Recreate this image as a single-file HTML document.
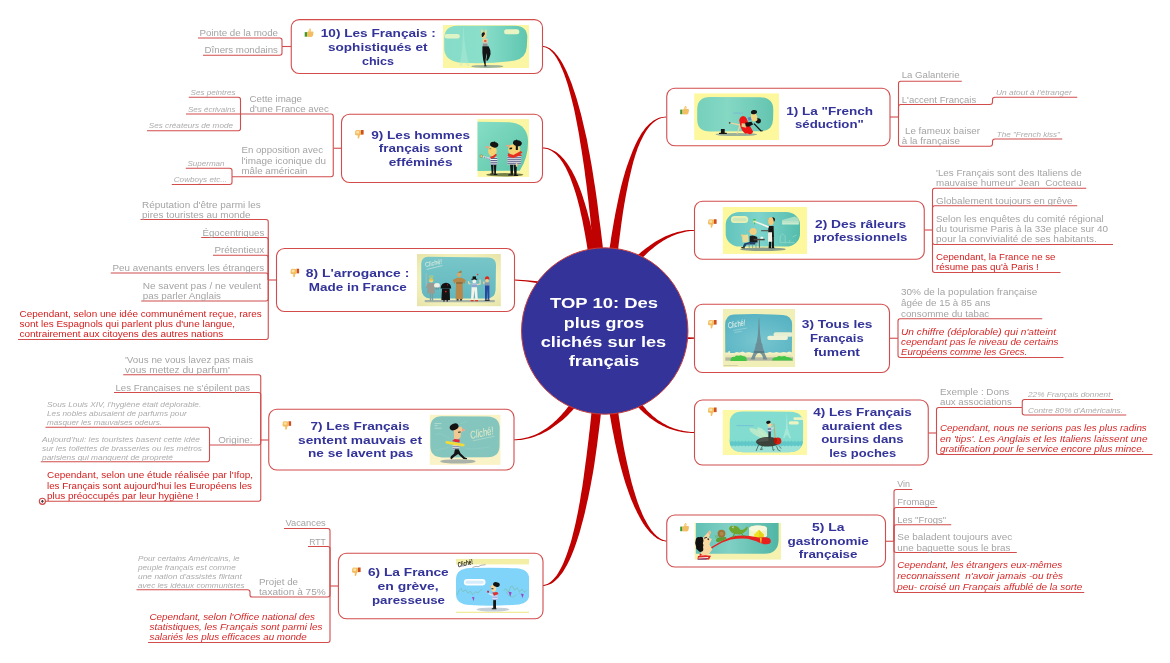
<!DOCTYPE html>
<html><head><meta charset="utf-8"><title>TOP 10: Des plus gros clichés sur les français</title><style>html,body{margin:0;padding:0;background:#fff}svg{display:block}
body>svg{will-change:transform;opacity:.999}
text{font-family:"Liberation Sans",sans-serif;white-space:pre}
.g{font-size:9px;fill:#a4a4a4}.gi{font-size:7.5px;font-style:italic;fill:#acacac}
.r{font-size:9px;fill:#d41c1c}.ri{font-size:9px;font-style:italic;fill:#d62828}
.t{font-size:11.1px;font-weight:bold;fill:#333399}.c{font-size:15px;font-weight:bold;fill:#fff}</style></head><body>
<svg width="1170" height="663" viewBox="0 0 1170 663">
<defs><linearGradient id="tg1" x1="0" x2="1" y1="0" y2="0"><stop offset="0" stop-color="#86dcc8"/><stop offset=".45" stop-color="#8adfcb"/><stop offset="1" stop-color="#5fc6b0"/></linearGradient><linearGradient id="tg9" x1="0" x2="1" y1="0" y2="1"><stop offset="0" stop-color="#86dec6"/><stop offset="1" stop-color="#5cc4a8"/></linearGradient><linearGradient id="tg8" x1="0" x2="0" y1="0" y2="1"><stop offset="0" stop-color="#78c6c8"/><stop offset="1" stop-color="#62b8c0"/></linearGradient><linearGradient id="tg2" x1="0" x2="1" y1="0" y2="0"><stop offset="0" stop-color="#62c4bc"/><stop offset=".45" stop-color="#7ed4cc"/><stop offset="1" stop-color="#54bcac"/></linearGradient><radialGradient id="tg3" cx=".5" cy=".65" r=".7"><stop offset="0" stop-color="#78c6d0"/><stop offset="1" stop-color="#56b2c2"/></radialGradient><linearGradient id="tg1b" x1="0" x2="1" y1="0" y2="0"><stop offset="0" stop-color="#76d0bc"/><stop offset=".4" stop-color="#84d8c4"/><stop offset="1" stop-color="#64c4b0"/></linearGradient><linearGradient id="tg5" x1="0" x2="1" y1="0" y2="0"><stop offset="0" stop-color="#62c0b4"/><stop offset=".4" stop-color="#80d0c4"/><stop offset="1" stop-color="#50b6a6"/></linearGradient><radialGradient id="bg8" cx=".5" cy=".5" r=".75"><stop offset=".6" stop-color="#f3f1bc"/><stop offset="1" stop-color="#e4e0a4"/></radialGradient></defs>
<rect width="1170" height="663" fill="#fff"/>
<g fill="#c00000"><path d="M542.2,46.9L542.7,47.0L543.3,47.0L543.8,47.1L544.4,47.2L545.0,47.3L545.6,47.5L546.2,47.8L546.8,48.0L547.4,48.3L548.0,48.7L548.7,49.1L549.4,49.6L550.0,50.1L550.7,50.7L551.4,51.4L552.1,52.1L552.8,52.9L553.5,53.7L554.2,54.6L554.9,55.6L555.7,56.7L556.4,57.8L557.2,59.0L557.9,60.4L558.7,61.7L559.4,63.2L560.2,64.8L560.9,66.5L561.7,68.2L562.5,70.1L563.3,72.0L564.1,74.1L564.9,76.2L565.7,78.5L566.5,80.9L567.3,83.3L568.1,85.9L568.9,88.7L569.6,91.5L570.4,94.5L571.2,97.6L572.0,100.8L572.8,104.1L573.7,107.6L574.5,111.2L575.3,114.9L576.0,118.8L576.8,122.8L577.6,127.0L578.4,131.3L579.2,135.8L579.9,140.4L580.7,145.2L581.5,150.1L582.3,155.2L583.1,160.4L583.9,165.8L584.7,171.4L585.4,177.2L586.2,183.1L587.0,189.2L587.7,195.4L588.5,201.9L589.2,208.5L590.0,215.3L590.7,222.3L591.4,229.5L592.0,236.9L592.6,244.5L593.3,252.2L594.0,260.2L594.7,268.4L595.4,276.7L596.1,285.3L596.7,294.1L597.4,303.1L598.0,312.3L598.7,321.7L599.3,331.4L610.2,330.6L609.5,321.0L608.8,311.5L608.0,302.3L607.3,293.3L606.5,284.4L605.7,275.8L604.9,267.5L604.1,259.3L603.3,251.3L602.4,243.5L601.5,235.9L600.6,228.5L599.6,221.3L598.7,214.3L597.9,207.5L597.0,200.8L596.1,194.3L595.2,188.1L594.2,182.0L593.3,176.0L592.4,170.3L591.5,164.7L590.5,159.2L589.6,154.0L588.6,148.9L587.7,143.9L586.8,139.1L585.7,134.5L584.7,130.1L583.7,125.7L582.7,121.6L581.8,117.5L580.8,113.6L579.8,109.9L578.8,106.3L577.8,102.8L576.9,99.5L575.9,96.2L574.9,93.2L573.9,90.2L572.9,87.4L572.0,84.6L571.0,82.0L570.0,79.6L569.1,77.2L568.1,74.9L567.2,72.8L566.3,70.7L565.3,68.8L564.4,66.9L563.5,65.2L562.6,63.5L561.7,62.0L560.8,60.5L559.9,59.1L559.0,57.9L558.1,56.6L557.3,55.5L556.4,54.5L555.6,53.5L554.8,52.6L554.0,51.8L553.2,51.0L552.4,50.3L551.6,49.7L550.8,49.1L550.1,48.6L549.3,48.1L548.6,47.7L547.9,47.4L547.2,47.1L546.5,46.8L545.9,46.6L545.2,46.4L544.6,46.3L544.0,46.2L543.4,46.1L542.8,46.1L542.2,46.1Z"/><path d="M542.2,148.4L543.9,148.5L545.5,148.7L547.1,149.1L548.6,149.6L550.1,150.2L551.6,151.0L553.0,151.9L554.4,152.9L555.7,154.0L557.0,155.3L558.2,156.7L559.5,158.1L560.7,159.7L561.8,161.3L563.0,163.0L564.1,164.9L565.2,166.8L566.2,168.8L567.3,170.9L568.2,173.0L569.2,175.3L570.2,177.6L571.1,179.9L572.0,182.4L572.9,184.9L573.8,187.5L574.6,190.1L575.5,192.8L576.3,195.5L577.1,198.3L577.9,201.2L578.6,204.0L579.4,207.0L580.1,209.9L580.7,212.9L581.4,216.0L582.1,219.0L582.7,222.1L583.3,225.2L583.9,228.3L584.5,231.5L585.1,234.6L585.6,237.8L586.2,241.0L586.7,244.1L587.2,247.3L587.7,250.5L588.2,253.6L588.7,256.8L589.2,259.9L589.7,263.1L590.1,266.2L590.6,269.3L591.0,272.3L591.5,275.4L591.9,278.4L592.3,281.3L592.7,284.3L593.1,287.2L593.5,290.0L593.8,292.8L594.2,295.6L594.6,298.3L594.9,300.9L595.3,303.5L595.6,306.1L596.0,308.5L596.3,310.9L596.6,313.3L597.0,315.5L597.3,317.7L597.6,319.8L597.9,321.8L598.3,323.8L598.6,325.6L598.9,327.4L599.2,329.1L599.6,330.7L599.9,332.2L609.6,329.8L609.3,328.5L609.0,327.0L608.6,325.5L608.3,323.8L607.9,322.0L607.6,320.2L607.2,318.2L606.9,316.1L606.5,314.0L606.1,311.8L605.7,309.5L605.4,307.1L605.0,304.7L604.6,302.2L604.2,299.6L603.8,297.0L603.3,294.3L602.9,291.5L602.5,288.7L602.0,285.9L601.6,283.0L601.1,280.0L600.6,277.1L600.2,274.0L599.7,271.0L599.2,267.9L598.6,264.8L598.1,261.7L597.6,258.6L597.0,255.4L596.4,252.2L595.9,249.1L595.2,245.9L594.6,242.7L593.9,239.5L593.3,236.3L592.6,233.1L591.9,230.0L591.1,226.8L590.4,223.7L589.6,220.5L588.8,217.4L588.0,214.4L587.2,211.3L586.3,208.3L585.4,205.3L584.6,202.4L583.6,199.5L582.7,196.6L581.8,193.8L580.8,191.0L579.8,188.3L578.8,185.7L577.7,183.1L576.6,180.6L575.5,178.1L574.4,175.7L573.2,173.4L572.0,171.1L570.7,169.0L569.5,166.9L568.2,164.9L566.9,163.0L565.5,161.2L564.2,159.5L562.8,157.9L561.4,156.4L559.9,155.0L558.4,153.8L556.9,152.6L555.3,151.6L553.8,150.7L552.2,149.9L550.6,149.2L549.0,148.6L547.3,148.1L545.6,147.8L543.9,147.6L542.2,147.6Z"/><path d="M666.2,116.6L664.6,116.7L663.0,116.9L661.4,117.2L659.9,117.6L658.4,118.1L656.9,118.7L655.5,119.5L654.0,120.3L652.6,121.3L651.2,122.4L649.8,123.5L648.5,124.8L647.1,126.2L645.8,127.6L644.5,129.2L643.3,130.9L642.0,132.6L640.8,134.5L639.7,136.4L638.5,138.5L637.4,140.6L636.3,142.8L635.2,145.1L634.1,147.4L633.1,149.8L632.1,152.3L631.1,154.9L630.1,157.5L629.1,160.2L628.1,162.9L627.1,165.7L626.2,168.6L625.2,171.5L624.4,174.5L623.5,177.5L622.7,180.6L621.8,183.7L621.0,186.9L620.3,190.1L619.5,193.4L618.8,196.7L618.1,200.1L617.4,203.5L616.7,206.9L616.0,210.3L615.3,213.8L614.7,217.3L614.0,220.8L613.4,224.4L612.8,227.9L612.2,231.5L611.6,235.1L611.0,238.7L610.5,242.4L609.9,246.0L609.4,249.6L608.9,253.3L608.4,256.9L607.9,260.6L607.5,264.2L607.0,267.9L606.6,271.5L606.1,275.2L605.7,278.8L605.2,282.4L604.8,286.0L604.4,289.6L604.0,293.1L603.6,296.7L603.2,300.2L602.8,303.7L602.4,307.2L602.0,310.6L601.6,314.0L601.3,317.4L600.9,320.7L600.5,324.0L600.1,327.3L599.8,330.5L609.7,331.5L610.0,328.3L610.3,325.0L610.7,321.7L611.0,318.4L611.3,315.0L611.6,311.6L612.0,308.2L612.3,304.7L612.6,301.2L613.0,297.7L613.3,294.1L613.7,290.6L614.0,287.0L614.4,283.4L614.7,279.8L615.1,276.2L615.5,272.6L615.9,268.9L616.3,265.3L616.7,261.7L617.1,258.0L617.5,254.4L618.0,250.7L618.4,247.1L618.8,243.5L619.3,239.9L619.7,236.3L620.2,232.7L620.7,229.1L621.1,225.6L621.6,222.0L622.1,218.5L622.6,215.0L623.1,211.6L623.7,208.1L624.2,204.7L624.8,201.4L625.4,198.1L626.0,194.8L626.6,191.5L627.3,188.3L627.9,185.1L628.5,182.0L629.2,178.9L629.9,175.9L630.6,172.9L631.3,170.0L632.0,167.1L632.7,164.3L633.4,161.6L634.2,158.9L635.0,156.2L635.8,153.7L636.7,151.2L637.5,148.8L638.4,146.4L639.4,144.2L640.3,142.0L641.3,139.9L642.3,137.9L643.3,135.9L644.4,134.1L645.4,132.3L646.5,130.6L647.6,129.0L648.7,127.5L649.9,126.1L651.1,124.8L652.3,123.6L653.5,122.5L654.8,121.5L656.1,120.6L657.5,119.8L658.8,119.1L660.2,118.6L661.7,118.1L663.2,117.8L664.7,117.6L666.2,117.6Z"/><path d="M694.4,230.0L692.4,229.9L690.4,230.0L688.4,230.1L686.5,230.3L684.5,230.6L682.5,231.0L680.5,231.4L678.6,231.8L676.6,232.3L674.7,232.9L672.7,233.5L670.8,234.2L668.9,235.0L666.9,235.8L665.0,236.6L663.1,237.5L661.3,238.5L659.4,239.5L657.5,240.5L655.7,241.6L653.8,242.8L652.0,243.9L650.2,245.2L648.5,246.4L646.7,247.7L645.0,249.1L643.2,250.4L641.5,251.8L639.9,253.3L638.2,254.7L636.6,256.2L635.0,257.7L633.4,259.3L631.8,260.8L630.3,262.4L628.8,264.0L627.3,265.7L625.8,267.3L624.4,269.0L623.0,270.7L621.7,272.4L620.3,274.1L619.1,275.8L617.8,277.5L616.6,279.2L615.4,281.0L614.2,282.7L613.1,284.4L612.0,286.2L611.0,287.9L609.9,289.7L609.0,291.4L608.0,293.2L607.1,294.9L606.3,296.6L605.5,298.3L604.7,300.0L604.0,301.7L603.3,303.4L602.7,305.1L602.1,306.7L601.5,308.3L601.0,310.0L600.6,311.6L600.2,313.1L599.8,314.7L599.6,316.2L599.3,317.8L599.1,319.3L599.0,320.7L598.9,322.2L598.9,323.6L599.0,325.0L599.1,326.3L599.2,327.7L599.5,329.0L599.8,330.3L600.1,331.5L600.6,332.8L608.9,329.2L608.7,328.6L608.4,327.9L608.3,327.2L608.1,326.4L608.0,325.5L607.9,324.5L607.9,323.5L607.9,322.5L608.0,321.4L608.1,320.2L608.2,319.0L608.4,317.8L608.7,316.5L609.0,315.1L609.3,313.8L609.6,312.4L610.0,310.9L610.5,309.5L610.9,308.0L611.5,306.4L612.0,304.9L612.6,303.3L613.3,301.7L613.9,300.1L614.6,298.5L615.4,296.8L616.2,295.2L617.0,293.5L617.9,291.8L618.8,290.1L619.7,288.4L620.7,286.7L621.7,285.0L622.7,283.3L623.8,281.5L624.9,279.8L626.0,278.1L627.2,276.4L628.4,274.7L629.6,273.0L630.8,271.3L632.1,269.7L633.4,268.0L634.7,266.4L636.1,264.7L637.5,263.1L638.9,261.5L640.3,260.0L641.8,258.4L643.2,256.9L644.8,255.4L646.3,253.9L647.8,252.5L649.4,251.1L651.0,249.7L652.6,248.4L654.3,247.0L655.9,245.8L657.6,244.5L659.3,243.3L661.0,242.2L662.7,241.1L664.5,240.0L666.2,239.0L668.0,238.1L669.8,237.2L671.6,236.3L673.5,235.5L675.3,234.8L677.2,234.1L679.0,233.5L680.9,232.9L682.8,232.4L684.7,232.0L686.6,231.6L688.6,231.3L690.5,231.1L692.4,230.9L694.4,230.8Z"/><path d="M513.7,440.2L516.2,440.2L518.6,440.1L521.1,439.9L523.5,439.6L525.9,439.1L528.2,438.6L530.6,438.0L532.9,437.3L535.1,436.5L537.4,435.6L539.7,434.7L541.9,433.7L544.1,432.6L546.2,431.4L548.4,430.2L550.5,428.9L552.5,427.5L554.6,426.1L556.7,424.6L558.7,423.1L560.7,421.5L562.7,419.9L564.6,418.2L566.5,416.5L568.3,414.7L570.1,412.8L571.9,410.9L573.6,409.0L575.3,407.0L577.0,405.0L578.6,403.0L580.2,401.0L581.8,398.9L583.3,396.8L584.8,394.7L586.2,392.6L587.6,390.5L589.0,388.4L590.3,386.3L591.6,384.1L592.9,382.0L594.1,379.9L595.2,377.8L596.4,375.7L597.5,373.6L598.5,371.5L599.5,369.5L600.5,367.4L601.5,365.4L602.3,363.5L603.2,361.5L604.0,359.6L604.8,357.7L605.5,355.9L606.2,354.1L606.8,352.4L607.4,350.6L608.0,349.0L608.5,347.4L609.0,345.8L609.4,344.3L609.8,342.9L610.1,341.5L610.4,340.2L610.6,338.9L610.8,337.7L611.0,336.5L611.1,335.4L611.2,334.4L611.2,333.4L611.1,332.4L611.0,331.4L610.7,330.3L610.2,329.1L609.2,327.9L607.7,326.8L605.8,326.3L604.1,326.5L602.8,327.0L606.7,335.0L606.2,335.2L605.2,335.3L603.9,335.0L602.9,334.3L602.4,333.6L602.2,333.2L602.2,333.1L602.2,333.2L602.2,333.6L602.2,334.1L602.1,334.7L602.1,335.5L601.9,336.3L601.8,337.3L601.6,338.4L601.3,339.5L601.0,340.7L600.7,342.0L600.3,343.4L599.9,344.8L599.5,346.3L599.0,347.9L598.5,349.5L598.0,351.2L597.4,352.9L596.8,354.7L596.1,356.5L595.4,358.3L594.6,360.2L593.9,362.1L593.0,364.1L592.2,366.1L591.3,368.1L590.4,370.1L589.4,372.2L588.4,374.2L587.4,376.3L586.3,378.4L585.2,380.5L584.1,382.6L582.9,384.7L581.7,386.8L580.4,388.9L579.2,391.0L577.9,393.1L576.5,395.2L575.1,397.3L573.7,399.3L572.3,401.4L570.8,403.4L569.3,405.4L567.7,407.3L566.2,409.3L564.6,411.2L562.9,413.0L561.3,414.9L559.6,416.7L557.9,418.4L556.2,420.2L554.4,421.8L552.6,423.5L550.7,425.0L548.8,426.5L546.9,427.9L544.9,429.3L542.9,430.5L540.9,431.7L538.8,432.9L536.7,433.9L534.5,434.9L532.3,435.8L530.1,436.6L527.9,437.3L525.6,437.8L523.3,438.3L520.9,438.7L518.5,439.1L516.1,439.3L513.7,439.4Z"/><path d="M541.9,586.0L543.9,585.9L545.8,585.6L547.7,585.1L549.7,584.3L551.6,583.4L553.4,582.2L555.2,580.7L557.0,579.0L558.8,577.2L560.5,575.1L562.2,572.9L563.8,570.4L565.4,567.8L567.0,565.0L568.5,562.0L570.0,558.9L571.4,555.7L572.8,552.3L574.2,548.7L575.5,545.1L576.8,541.3L578.0,537.4L579.3,533.4L580.5,529.3L581.6,525.1L582.8,520.8L583.9,516.4L585.0,511.9L586.0,507.4L587.0,502.8L588.1,498.2L589.0,493.5L590.0,488.7L590.9,483.9L591.8,479.1L592.7,474.3L593.5,469.4L594.3,464.5L595.0,459.6L595.7,454.7L596.4,449.8L597.1,445.0L597.7,440.1L598.3,435.3L598.9,430.5L599.5,425.7L600.1,421.0L600.6,416.3L601.1,411.7L601.6,407.2L602.1,402.7L602.6,398.3L603.0,394.0L603.5,389.8L603.9,385.6L604.3,381.6L604.6,377.7L605.0,373.9L605.4,370.2L605.7,366.6L606.0,363.2L606.3,359.9L606.6,356.8L606.9,353.8L607.2,351.0L607.4,348.3L607.7,345.8L607.9,343.5L608.2,341.4L608.4,339.5L608.6,337.8L608.8,336.3L608.9,335.0L609.1,334.0L609.2,333.4L609.3,333.1L609.2,333.5L606.9,335.7L600.7,334.4L608.8,327.6L602.3,326.2L599.7,328.8L599.2,330.1L599.0,331.2L598.8,332.3L598.6,333.5L598.4,335.0L598.2,336.6L598.0,338.4L597.8,340.3L597.6,342.5L597.4,344.8L597.2,347.3L597.0,350.0L596.7,352.9L596.5,355.9L596.2,359.0L595.9,362.3L595.7,365.7L595.4,369.3L595.1,373.0L594.7,376.8L594.4,380.7L594.0,384.7L593.7,388.8L593.3,393.1L592.9,397.4L592.5,401.8L592.1,406.2L591.6,410.7L591.2,415.3L590.7,420.0L590.2,424.7L589.7,429.4L589.1,434.2L588.6,439.0L588.0,443.8L587.4,448.7L586.8,453.5L586.2,458.4L585.5,463.2L584.9,468.1L584.2,473.0L583.6,477.8L582.9,482.6L582.2,487.4L581.4,492.1L580.6,496.8L579.9,501.4L579.0,506.0L578.2,510.5L577.3,514.9L576.4,519.3L575.5,523.5L574.5,527.7L573.5,531.8L572.5,535.8L571.5,539.7L570.4,543.4L569.2,547.0L568.1,550.5L566.9,553.9L565.7,557.2L564.5,560.2L563.3,563.2L562.0,566.0L560.7,568.6L559.3,571.0L558.0,573.3L556.6,575.4L555.1,577.3L553.6,579.0L552.1,580.5L550.5,581.9L549.0,583.0L547.3,583.9L545.5,584.6L543.8,585.0L541.9,585.2Z"/><path d="M666.7,540.6L666.3,540.5L665.9,540.5L665.5,540.5L665.0,540.4L664.5,540.3L664.0,540.2L663.5,540.0L663.0,539.9L662.4,539.6L661.8,539.4L661.3,539.1L660.7,538.8L660.0,538.4L659.4,538.0L658.8,537.5L658.1,537.1L657.4,536.5L656.7,535.9L656.0,535.3L655.3,534.6L654.6,533.9L653.9,533.1L653.1,532.3L652.4,531.3L651.6,530.4L650.8,529.3L650.1,528.2L649.3,527.0L648.5,525.8L647.7,524.4L646.9,523.1L646.1,521.6L645.3,520.1L644.4,518.5L643.6,516.8L642.7,515.0L641.9,513.1L641.1,511.1L640.2,509.1L639.4,506.9L638.6,504.7L637.7,502.4L636.9,499.9L636.1,497.4L635.2,494.8L634.4,492.0L633.5,489.2L632.7,486.3L631.8,483.2L631.0,480.0L630.2,476.7L629.4,473.3L628.6,469.8L627.8,466.2L626.9,462.4L626.1,458.6L625.2,454.6L624.4,450.4L623.6,446.2L622.8,441.8L622.0,437.3L621.3,432.6L620.5,427.8L619.8,422.8L619.0,417.8L618.3,412.5L617.5,407.2L616.8,401.6L616.1,396.0L615.4,390.2L614.7,384.2L614.0,378.0L613.3,371.8L612.7,365.3L612.1,358.7L611.4,351.9L610.9,345.0L610.3,337.9L609.7,330.6L599.8,331.4L600.4,338.7L601.1,345.9L601.8,352.8L602.6,359.7L603.3,366.3L604.1,372.8L604.8,379.1L605.6,385.3L606.4,391.3L607.2,397.1L608.1,402.9L608.9,408.4L609.7,413.8L610.6,419.1L611.5,424.2L612.4,429.2L613.4,434.0L614.3,438.7L615.2,443.2L616.2,447.7L617.1,452.0L618.1,456.1L619.0,460.2L620.0,464.1L621.0,467.8L622.0,471.5L623.0,475.0L624.0,478.4L625.0,481.7L626.0,484.9L627.1,488.0L628.1,490.9L629.1,493.8L630.1,496.5L631.1,499.2L632.2,501.7L633.2,504.1L634.2,506.5L635.3,508.7L636.3,510.8L637.3,512.9L638.3,514.8L639.3,516.7L640.3,518.5L641.2,520.2L642.2,521.8L643.1,523.4L644.1,524.8L645.0,526.2L646.0,527.5L647.0,528.7L647.9,529.8L648.8,530.9L649.7,531.9L650.6,532.9L651.5,533.8L652.4,534.6L653.2,535.4L654.0,536.1L654.8,536.7L655.6,537.3L656.4,537.9L657.2,538.4L657.9,538.9L658.7,539.2L659.4,539.6L660.1,539.9L660.8,540.2L661.4,540.5L662.0,540.7L662.6,540.9L663.2,541.0L663.8,541.1L664.3,541.2L664.9,541.3L665.4,541.4L665.8,541.4L666.3,541.4L666.7,541.4Z"/><path d="M694.9,432.1L693.0,432.0L691.0,431.9L689.2,431.7L687.3,431.5L685.5,431.2L683.7,430.9L681.9,430.6L680.1,430.2L678.4,429.8L676.7,429.3L675.0,428.7L673.4,428.2L671.7,427.6L670.1,426.9L668.6,426.2L667.0,425.4L665.5,424.6L664.0,423.8L662.5,423.0L661.1,422.1L659.6,421.1L658.2,420.2L656.8,419.2L655.5,418.1L654.1,417.0L652.8,415.9L651.6,414.8L650.3,413.6L649.1,412.4L647.8,411.2L646.6,409.9L645.5,408.6L644.3,407.3L643.2,405.9L642.1,404.6L641.0,403.2L639.9,401.8L638.8,400.3L637.8,398.9L636.8,397.4L635.8,395.9L634.8,394.4L633.8,392.8L632.9,391.3L631.9,389.7L631.0,388.1L630.1,386.5L629.2,384.8L628.4,383.2L627.5,381.5L626.7,379.9L625.9,378.2L625.0,376.5L624.3,374.8L623.5,373.0L622.7,371.3L622.0,369.6L621.3,367.8L620.5,366.0L619.8,364.3L619.2,362.5L618.5,360.7L617.8,358.9L617.2,357.1L616.6,355.3L615.9,353.5L615.3,351.6L614.7,349.8L614.2,348.0L613.6,346.2L613.1,344.4L612.5,342.5L612.0,340.7L611.5,338.9L611.0,337.1L610.5,335.3L610.0,333.5L609.6,331.6L609.1,329.8L600.4,332.2L600.9,334.0L601.5,335.8L602.0,337.7L602.6,339.5L603.2,341.4L603.8,343.2L604.4,345.1L605.0,346.9L605.6,348.8L606.3,350.7L606.9,352.5L607.6,354.4L608.3,356.2L609.0,358.0L609.8,359.9L610.5,361.7L611.3,363.5L612.1,365.4L612.9,367.2L613.7,369.0L614.5,370.8L615.4,372.5L616.2,374.3L617.1,376.1L618.0,377.8L618.9,379.6L619.9,381.3L620.8,383.0L621.8,384.7L622.8,386.3L623.8,388.0L624.8,389.6L625.8,391.3L626.9,392.9L628.0,394.4L629.1,396.0L630.2,397.5L631.4,399.0L632.5,400.5L633.7,402.0L634.9,403.4L636.1,404.8L637.3,406.2L638.6,407.6L639.9,408.9L641.2,410.2L642.5,411.5L643.8,412.7L645.2,413.9L646.6,415.1L648.0,416.3L649.4,417.4L650.8,418.4L652.3,419.5L653.7,420.5L655.2,421.5L656.7,422.4L658.2,423.4L659.8,424.2L661.3,425.1L662.9,425.9L664.5,426.6L666.1,427.4L667.8,428.0L669.4,428.7L671.1,429.2L672.8,429.8L674.5,430.3L676.3,430.8L678.0,431.2L679.8,431.6L681.6,432.0L683.5,432.3L685.3,432.5L687.2,432.7L689.1,432.8L691.0,432.9L692.9,433.0L694.9,432.9Z"/><path d="M514.5,279.5 Q526,280 540,281.6 L540,283.6 Q526,281.2 514.5,280.5Z"/><path d="M694.5,337.6 L680,337 L680,339.6 L694.5,338.7Z"/></g>
<circle cx="604.75" cy="331" r="83.2" fill="#333399" stroke="#c83c3c" stroke-width="1"/>
<g fill="none" stroke="#d24c4c" stroke-width="1.1"><path d="M282,46.5L282,40.2Q282,38 279.8,38L198,38"/><path d="M282,46.5L282,53.05Q282,55.25 279.8,55.25L203,55.25"/><path d="M282,46.5L291.25,46.5"/><path d="M333.25,148.25L333.25,116.2Q333.25,114 331.05,114L240.5,114"/><path d="M240.5,114L240.5,99.45Q240.5,97.25 238.3,97.25L188.75,97.25"/><path d="M240.5,114L186,114"/><path d="M240.5,114L240.5,128.55Q240.5,130.75 238.3,130.75L147,130.75"/><path d="M333.25,148.25L333.25,174.55Q333.25,176.75 331.05,176.75L232,176.75"/><path d="M232,176.75L232,170.45Q232,168.25 229.8,168.25L185.75,168.25"/><path d="M232,176.75L232,182.3Q232,184.5 229.8,184.5L171.75,184.5"/><path d="M333.25,148.25L341.5,148.25"/><path d="M268.25,280L268.25,221.7Q268.25,219.5 266.05,219.5L140.5,219.5"/><path d="M268.25,280L268.25,239.7Q268.25,237.5 266.05,237.5L201.25,237.5"/><path d="M268.25,280L268.25,257.45Q268.25,255.25 266.05,255.25L213,255.25"/><path d="M268.25,280L268.25,275.2Q268.25,273 266.05,273L110.75,273"/><path d="M268.25,280L268.25,298.8Q268.25,301 266.05,301L141.25,301"/><path d="M268.25,280L268.25,337.3Q268.25,339.5 266.05,339.5L18,339.5"/><path d="M268.25,280L276.5,280"/><path d="M260.75,440L260.75,376.95Q260.75,374.75 258.55,374.75L123.25,374.75"/><path d="M260.75,440L260.75,394.7Q260.75,392.5 258.55,392.5L114,392.5"/><path d="M260.75,440L260.75,442.8Q260.75,445 258.55,445L209.5,445"/><path d="M209.5,445L209.5,429.45Q209.5,427.25 207.3,427.25L45.5,427.25"/><path d="M209.5,445L209.5,459.55Q209.5,461.75 207.3,461.75L40.75,461.75"/><path d="M260.75,440L260.75,499.05Q260.75,501.25 258.55,501.25L45.5,501.25"/><path d="M260.75,440L268.75,440"/><path d="M330,586L330,530.7Q330,528.5 327.8,528.5L284,528.5"/><path d="M330,586L330,548.7Q330,546.5 327.8,546.5L308,546.5"/><path d="M330,586L330,594.8Q330,597 327.8,597L252,597"/><path d="M252,597Q250,597 250,595L250,592Q250,589.75 247.5,589.75L136.5,589.75"/><path d="M330,586L330,640.3Q330,642.5 327.8,642.5L148,642.5"/><path d="M330,586L338.4,586"/><path d="M898.5,117L898.5,83.45Q898.5,81.25 900.7,81.25L961.75,81.25"/><path d="M898.5,117L898.5,106.7Q898.5,104.5 900.7,104.5L990,104.5"/><path d="M990,104.5Q992.5,104.5 992.5,102L992.5,99.5Q992.5,97.25 995,97.25L1077.25,97.25"/><path d="M898.5,117L898.5,144.05Q898.5,146.25 900.7,146.25L990,146.25"/><path d="M990,146.25Q992.5,146.25 992.5,143.75L992.5,141.5Q992.5,139 995,139L1062.25,139"/><path d="M890,117L898.5,117"/><path d="M932.5,230L932.5,190.45Q932.5,188.25 934.7,188.25L1086.25,188.25"/><path d="M932.5,230L932.5,207.95Q932.5,205.75 934.7,205.75L1077.25,205.75"/><path d="M932.5,230L932.5,242.3Q932.5,244.5 934.7,244.5L1113,244.5"/><path d="M932.5,230L932.5,270.3Q932.5,272.5 934.7,272.5L1060.5,272.5"/><path d="M924.25,230L932.5,230"/><path d="M898,338.25L898,320.95Q898,318.75 900.2,318.75L1042.25,318.75"/><path d="M898,338.25L898,355.3Q898,357.5 900.2,357.5L1063.5,357.5"/><path d="M889.5,338.25L898,338.25"/><path d="M936.5,433L936.5,409.7Q936.5,407.5 938.7,407.5L1022.25,407.5"/><path d="M1022.25,407.5L1022.25,401.7Q1022.25,399.5 1024.45,399.5L1113,399.5"/><path d="M1022.25,407.5L1022.25,412.8Q1022.25,415 1024.45,415L1126.25,415"/><path d="M936.5,433L936.5,452.3Q936.5,454.5 938.7,454.5L1152.5,454.5"/><path d="M928.25,433L936.5,433"/><path d="M894,541.25L894,491.7Q894,489.5 896.2,489.5L912.25,489.5"/><path d="M894,541.25L894,509.7Q894,507.5 896.2,507.5L937.25,507.5"/><path d="M894,541.25L894,526.95Q894,524.75 896.2,524.75L951.25,524.75"/><path d="M894,541.25L894,550.3Q894,552.5 896.2,552.5L1016.75,552.5"/><path d="M894,541.25L894,590.3Q894,592.5 896.2,592.5L1084.25,592.5"/><path d="M885.5,541.25L894,541.25"/></g>
<rect x="291.25" y="19.6" width="251.25" height="53.90" rx="8" fill="#fff" stroke="#d24c4c" stroke-width="1.1"/>
<g transform="translate(304.5,28.5)"><rect x="0.2" y="3.6" width="2.3" height="4.6" fill="#3f9a2f"/><path d="M2.5,3.6 L3.6,3.2 Q4.4,1.6 5,0.2 Q6.4,-0.2 6.6,1.4 L6.2,3 L8.4,3.1 Q9.2,3.4 8.9,5 L8.3,7.6 Q7.9,8.4 6.8,8.4 L2.5,8.2Z" fill="#f3bd62"/><path d="M3.8,3.2 Q4.5,1.6 5.1,0.5 Q6.2,0.2 6.3,1.5 L6,3.1" fill="#f8d58a"/></g>
<svg x="443" y="25" width="86" height="43" viewBox="0 0 86 43" overflow="hidden"><rect width="86" height="43" fill="#fbf6a4"/><path d="M1.2,14 Q1.2,1.2 14,0.8 L72,0.65 Q84,1 84.3,12 L83.8,22 Q83,33 72,35.6 Q45,39.4 18,37.8 Q1.8,36 1.2,24Z" fill="url(#tg1)"/><rect x="1.6" y="8.9" width="15.2" height="4.5" rx="2.2" fill="#def3c6"/><rect x="61.1" y="4.3" width="15.2" height="5" rx="2.5" fill="#e8f5c2"/><path d="M20.1,3 Q19.8,26 16.4,41 L18.6,41 Q21.4,34 24.2,41 L26.7,41 Q21.6,26 20.7,3Z" fill="#b4eed8" opacity=".42"/><ellipse cx="44.3" cy="41.4" rx="16" ry="1.5" fill="#9db29d"/><path d="M39.2,11 L38,4.6 L39.4,4.4 L41,9.5 L42.6,4.4 L43.8,4.8 L43.2,11Z" fill="#f6d890"/><ellipse cx="40.8" cy="10.6" rx="2.5" ry="3" fill="#f2d08c"/><path d="M38.6,9.2 Q39,6.6 41.6,7.4 Q42.6,9 41,10.6 Q39.4,13 38.8,11.6Z" fill="#181818"/><rect x="39.6" y="13.6" width="5" height="4.2" fill="#f0c890"/><rect x="41.2" y="15.2" width="2.2" height="1.6" fill="#e04828"/><rect x="39.8" y="17.4" width="4.8" height="3.8" fill="#f2f2ee"/><rect x="39.8" y="17.84" width="4.8" height="0.51" fill="#303038"/><rect x="39.8" y="19.11" width="4.8" height="0.51" fill="#303038"/><rect x="39.8" y="20.38" width="4.8" height="0.51" fill="#303038"/><path d="M39.4,21.2 L45.6,21.2 Q48,25 47.6,29 Q46.6,33 44.6,35.8 L43.2,35.4 Q44.4,31 43.6,28 L42.6,35 L42.8,40.4 L41.8,40.4 L40.2,35 Q39,27 39.4,21.2Z" fill="#141414"/><path d="M41.6,40 L44.2,41 L41.4,41.6Z" fill="#141414"/></svg>
<text class="t" x="320.75" y="37.00" textLength="115.00" lengthAdjust="spacingAndGlyphs">10) Les Français :</text>
<text class="t" x="328.00" y="50.75" textLength="99.50" lengthAdjust="spacingAndGlyphs">sophistiqués et</text>
<text class="t" x="362.00" y="64.50" textLength="32.00" lengthAdjust="spacingAndGlyphs">chics</text>
<rect x="341.5" y="114.25" width="201.00" height="68.25" rx="8" fill="#fff" stroke="#d24c4c" stroke-width="1.1"/>
<g transform="translate(355,130)"><rect x="6" y="0" width="2.6" height="4.6" fill="#cf4f1f"/><path d="M6,0.2 L1.6,0.1 Q0.4,0.2 0.2,1.4 L0,4 Q0,5.2 1.2,5.3 L2.9,5.4 L2.6,7.6 Q2.9,8.9 4,8.4 L4.9,5.3 L6,4.8Z" fill="#f3bd62"/><rect x="1.2" y="1" width="3" height="2.6" rx="1" fill="#fbe2a6"/></g>
<svg x="477.3" y="119.1" width="51.7" height="57.8" viewBox="0 0 51.7 57.8" overflow="hidden"><rect width="51.7" height="57.8" fill="#fbf6a4"/><path d="M0,2.6 L32,3.2 Q47.6,4 50.4,18 Q52.4,36 42.4,51.6 L0,52Z" fill="url(#tg9)"/><ellipse cx="27.5" cy="55.7" rx="18.5" ry="1.7" fill="#5e6c38" opacity=".85"/><path d="M13.6,45 L16.2,45 L16,54.6 L14.4,54.6Z M16.6,45 L19,45.6 L18.6,55 L17,55Z" fill="#161616"/><path d="M13.2,54.4 h3.2 v1.1 h-3.8z M16.6,54.8 h3 l.8,1.1 h-4z" fill="#161616"/><rect x="13.2" y="38.4" width="6.8" height="7.4" fill="#f4f4f0"/><rect x="13.2" y="39.05" width="6.8" height="0.74" fill="#28306c"/><rect x="13.2" y="40.90" width="6.8" height="0.74" fill="#28306c"/><rect x="13.2" y="42.75" width="6.8" height="0.74" fill="#28306c"/><rect x="13.2" y="44.60" width="6.8" height="0.74" fill="#28306c"/><path d="M13.4,41 L5,38 L5.4,36.6 L13.6,39Z" fill="#e4e6f0"/><path d="M11.6,39.2 l.5,1.3 M9.4,38.4 l.5,1.3 M7.2,37.6 l.5,1.3" stroke="#28306c" stroke-width=".6"/><circle cx="4" cy="37.1" r="1.4" fill="#e0cc80" stroke="#6a6030" stroke-width=".4"/><ellipse cx="15.1" cy="31.9" rx="4.3" ry="5.4" fill="#f5d272"/><path d="M11.6,26.8 L6.9,27.6 L11.1,29.6Z" fill="#f4a080"/><path d="M12.2,29.6 h1.8" stroke="#222" stroke-width=".5"/><path d="M12.7,38 L16,36.6 L18.6,34.6 L19.6,36 L17,38.6 L13.6,39.6Z" fill="#e83020"/><ellipse cx="16.9" cy="25.6" rx="4.2" ry="2.8" transform="rotate(12 16.9 25.6)" fill="#141414"/><rect x="17" y="22.2" width=".8" height="1.4" fill="#141414"/><path d="M32.7,45 L35.9,45 L35.6,55.4 L33.4,55.4Z M36.4,45 L39.6,45 L39.2,55.8 L37,55.8Z" fill="#161616"/><path d="M31.2,55.2 h4.6 v1.2 h-5z M36.4,55.6 h3.8 l.8,1.2 h-4.6z" fill="#161616"/><rect x="30.1" y="35.6" width="13.7" height="10" fill="#f4f4f0"/><rect x="30.1" y="36.30" width="13.7" height="0.80" fill="#28306c"/><rect x="30.1" y="38.30" width="13.7" height="0.80" fill="#28306c"/><rect x="30.1" y="40.30" width="13.7" height="0.80" fill="#28306c"/><rect x="30.1" y="42.30" width="13.7" height="0.80" fill="#28306c"/><rect x="30.1" y="44.30" width="13.7" height="0.80" fill="#28306c"/><rect x="38.5" y="44" width="1.6" height="3.6" fill="#e8d090"/><ellipse cx="36.9" cy="30.4" rx="6" ry="5.6" fill="#f5d272"/><path d="M32.6,25.6 L28.2,26.1 L31.6,28.6Z" fill="#f4a080"/><path d="M32.2,28.6 L34.8,28.4 L34.8,30 L32.2,30.3Z" fill="#141414"/><path d="M38.5,25.5 h2.1 v5.3 h-2.1z" fill="#141414"/><path d="M30.6,34 L36,36 L43.5,31.8 L45.2,33.4 L43,35 L44.8,36.6 L41,37 L36,39 L30.6,37.4Z" fill="#e83020"/><ellipse cx="40.1" cy="24" rx="4.5" ry="2.9" transform="rotate(12 40.1 24)" fill="#141414"/><rect x="39" y="20.4" width=".8" height="1.4" fill="#141414"/></svg>
<text class="t" x="371.25" y="138.50" textLength="98.75" lengthAdjust="spacingAndGlyphs">9) Les hommes</text>
<text class="t" x="378.75" y="152.25" textLength="83.75" lengthAdjust="spacingAndGlyphs">français sont</text>
<text class="t" x="388.75" y="166.00" textLength="63.75" lengthAdjust="spacingAndGlyphs">efféminés</text>
<rect x="276.5" y="248.5" width="238.00" height="63.00" rx="8" fill="#fff" stroke="#d24c4c" stroke-width="1.1"/>
<g transform="translate(290.5,268.75)"><rect x="6" y="0" width="2.6" height="4.6" fill="#cf4f1f"/><path d="M6,0.2 L1.6,0.1 Q0.4,0.2 0.2,1.4 L0,4 Q0,5.2 1.2,5.3 L2.9,5.4 L2.6,7.6 Q2.9,8.9 4,8.4 L4.9,5.3 L6,4.8Z" fill="#f3bd62"/><rect x="1.2" y="1" width="3" height="2.6" rx="1" fill="#fbe2a6"/></g>
<svg x="417" y="254" width="83.9" height="52.4" viewBox="0 0 83.9 52.4" overflow="hidden"><rect width="83.9" height="52.4" fill="url(#bg8)"/><path d="M11,2.8 L72,3.4 Q79,4 79,11 L78.6,36 Q78,44.4 70,44.4 L14,44.6 Q4.6,44.6 4.4,34 L4.2,10 Q4.4,3 11,2.8Z" fill="url(#tg8)"/><rect x="7.5" y="45.9" width="70.5" height="2.4" rx="1.2" fill="#a6b2a6"/><text x="8.6" y="13" font-size="6.6" font-style="italic" font-family="Liberation Serif, serif" fill="#f4f4e4" opacity=".9" textLength="17" lengthAdjust="spacingAndGlyphs" transform="rotate(-12 8.6 13)">Cliché!</text><path d="M9.6,15.4 L25.4,11.6" stroke="#f4f4e4" stroke-width=".5"/><rect x="8.8" y="19.2" width=".7" height="13.6" fill="#b4bcb8"/><rect x="12.8" y="39.2" width="1.4" height="7.4" fill="#7aa0a0"/><rect x="14.8" y="39.2" width="1.4" height="7.4" fill="#7aa0a0"/><path d="M10.6,29 L17.4,29 L18,39.6 L10.2,39.6Z" fill="#9a9a90"/><path d="M10.8,30 L8.6,33.6 L9.6,34 L11.6,31.6Z" fill="#9a9a90"/><ellipse cx="20" cy="31.4" rx="2.9" ry="2.3" fill="#f0f0e8"/><rect x="18.8" y="33" width=".5" height="2.6" fill="#555"/><rect x="20.8" y="33" width=".5" height="2.6" fill="#555"/><circle cx="14.2" cy="26.4" r="2.1" fill="#f2d880"/><path d="M12,25.6 Q14.2,23.2 16.4,25.6 L16.2,26.6 L12.2,26.6Z" fill="#e8c040"/><ellipse cx="14.2" cy="22.6" rx="2.2" ry=".7" fill="none" stroke="#f0d840" stroke-width=".5"/><path d="M23.6,34.6 Q24,29 29,28.8 Q34,29 34.2,34.6Z" fill="#121212"/><path d="M25,34.6 L32.6,34.6 L33,46 L24.4,46Z" fill="#141414"/><circle cx="28.8" cy="37.6" r=".9" fill="#e02020"/><circle cx="30.4" cy="30.8" r=".6" fill="#e02020"/><rect x="26.4" y="46" width="1.2" height="1.6" fill="#141414"/><rect x="29.6" y="46" width="1.2" height="1.6" fill="#141414"/><path d="M40,23.8 L44.6,23.8 L48.8,26 L47.4,30 L45.6,27.8 L46,45.2 L38.6,45.2 L39,27.8 L37.2,30 L35.8,26Z" fill="#b8884a"/><rect x="39.2" y="28.6" width="6.6" height=".8" fill="#6a4a20"/><ellipse cx="42.2" cy="20.6" rx="1.9" ry="2.6" fill="#d8a868"/><path d="M40.4,18.6 L44.6,16.6 L44.4,19Z" fill="#a87838"/><path d="M40.6,20 L38.8,21 L40.6,21.6Z" fill="#d8a868"/><rect x="39.6" y="45.2" width="2" height="1.3" fill="#222"/><rect x="43" y="45.2" width="2" height="1.3" fill="#222"/><rect x="55.6" y="22.4" width="3.4" height="2.8" fill="#121212"/><rect x="54.4" y="24.8" width="5.8" height=".9" fill="#121212"/><circle cx="57.3" cy="27.4" r="1.9" fill="#f4f0e8"/><rect x="54.6" y="29.4" width="5.4" height="3.8" fill="#e8ecf4"/><rect x="54.6" y="29.84" width="5.4" height="0.51" fill="#3860b0"/><rect x="54.6" y="31.11" width="5.4" height="0.51" fill="#3860b0"/><rect x="54.6" y="32.38" width="5.4" height="0.51" fill="#3860b0"/><path d="M54.6,30 L51.6,30.6 L50.8,27.4 L52,27 L52.6,29.2Z M60,30 L62.6,29.4 L62.4,25.6 L63.6,25.6 L63.8,30.4 L60,31.2Z" fill="#f0d8a0"/><path d="M54.6,33.2 L60,33.2 L60.8,46 L58.4,46 L57.4,36 L56.4,46 L54,46Z" fill="#f4f2ea"/><rect x="53.8" y="46" width="2.8" height="1.3" fill="#e03828"/><rect x="58.2" y="46" width="2.8" height="1.3" fill="#e03828"/><circle cx="60.6" cy="20.6" r=".8" fill="#e03828"/><path d="M67.8,25.4 Q68,22.2 70.2,22.2 Q72.4,22.4 72.4,25.4Z" fill="#e02818"/><circle cx="70.1" cy="26.8" r="1.9" fill="#f0c890"/><rect x="68" y="28.4" width="4.6" height="3.4" fill="#8898b0"/><path d="M68,29 L66.2,30.6 L66,27.6 L67,27.6Z" fill="#f0c890"/><path d="M68,31.6 L72.4,31.6 L72.4,45.8 L70.6,45.8 L70.2,35 L69.8,45.8 L68,45.8Z" fill="#2846a0"/><rect x="67.8" y="45.8" width="4.8" height="1.2" fill="#333"/></svg>
<text class="t" x="305.75" y="276.75" textLength="103.50" lengthAdjust="spacingAndGlyphs">8) L'arrogance :</text>
<text class="t" x="308.75" y="290.75" textLength="98.00" lengthAdjust="spacingAndGlyphs">Made in France</text>
<rect x="268.75" y="409.25" width="245.25" height="60.75" rx="8" fill="#fff" stroke="#d24c4c" stroke-width="1.1"/>
<g transform="translate(282.5,421.25)"><rect x="6" y="0" width="2.6" height="4.6" fill="#cf4f1f"/><path d="M6,0.2 L1.6,0.1 Q0.4,0.2 0.2,1.4 L0,4 Q0,5.2 1.2,5.3 L2.9,5.4 L2.6,7.6 Q2.9,8.9 4,8.4 L4.9,5.3 L6,4.8Z" fill="#f3bd62"/><rect x="1.2" y="1" width="3" height="2.6" rx="1" fill="#fbe2a6"/></g>
<svg x="429.5" y="414.6" width="71.2" height="50.3" viewBox="0 0 71.2 50.3" overflow="hidden"><rect width="71.2" height="50.3" fill="#fbf3c8"/><path d="M12,1.6 L58,2 Q70.4,2.4 70.2,14 L70,32 Q69.6,42.8 58,42.6 L13,42.8 Q0.8,43 0.8,31 L0.8,13 Q1,1.8 12,1.6Z" fill="#84c6be"/><ellipse cx="28.4" cy="46.8" rx="17.6" ry="2.2" fill="#aab2aa"/><text x="41.6" y="24.4" font-size="11" font-style="italic" font-family="Liberation Serif, serif" fill="#f6f0c8" opacity=".85" textLength="23.5" lengthAdjust="spacingAndGlyphs" transform="rotate(-12 41.6 24.4)">Cliché!</text><path d="M43.4,26.2 L65,21.6" stroke="#dcecd8" stroke-width=".4"/><path d="M5,9 h7 M5,11 h3 M5,13.6 h7" stroke="#c4e4d4" stroke-width=".7"/><path d="M5.6,20 L11,19 L20,24 M6,35.6 L20,32.6 M36,33.6 L42,34.6 L60,32.4 M31,9 L38,6.4" stroke="#a8d8d0" stroke-width=".4" fill="none" stroke-dasharray="1.2 .8"/><path d="M25.6,34 L28.8,34 L31,38.6 L35.4,43 L37.6,43.6 L37.4,44.6 L34,44.4 L28.6,39.4 L24.6,42.2 L22,44.6 L20.8,43.6 L21.4,41.6 L24.6,39Z" fill="#141414"/><rect x="23" y="28.6" width="6.8" height="6" fill="#dfe3e6"/><rect x="23" y="29.30" width="6.8" height="0.80" fill="#6a7a94"/><rect x="23" y="31.30" width="6.8" height="0.80" fill="#6a7a94"/><rect x="23" y="33.30" width="6.8" height="0.80" fill="#6a7a94"/><path d="M24.2,12.6 L32,12.2 L32.6,14 L35.4,15.2 L35.2,16.2 L31.8,17.2 L31,23 L27.6,24.8 L24.6,24.4Z" fill="#f2c892"/><path d="M32.6,14 L35.4,15.2 L35.2,16.2 L32.4,16.6Z" fill="#f4a088"/><path d="M28.6,17.2 L31.2,16.8 L31.2,17.8 L28.6,18.2Z" fill="#1a1a1a"/><ellipse cx="24.6" cy="12.2" rx="4.6" ry="3.2" transform="rotate(-24 24.6 12.2)" fill="#141414"/><path d="M22.6,26.4 L25,24.4 L30.2,25 L30,27.8 L26,27.4Z" fill="#e4283c"/><path d="M16,27 Q15.6,28.6 17,29.2 L33.6,31.8 Q35.4,31.6 35.2,30.2 Q34.8,29.2 33.6,29.2 L17.6,26.4 Q16.4,26.2 16,27Z" fill="#f2da38"/></svg>
<text class="t" x="310.50" y="430.00" textLength="99.00" lengthAdjust="spacingAndGlyphs">7) Les Français</text>
<text class="t" x="298.00" y="443.75" textLength="124.00" lengthAdjust="spacingAndGlyphs">sentent mauvais et</text>
<text class="t" x="308.00" y="457.25" textLength="105.25" lengthAdjust="spacingAndGlyphs">ne se lavent pas</text>
<rect x="338.4" y="553.2" width="204.60" height="65.55" rx="8" fill="#fff" stroke="#d24c4c" stroke-width="1.1"/>
<g transform="translate(352,567.5)"><rect x="6" y="0" width="2.6" height="4.6" fill="#cf4f1f"/><path d="M6,0.2 L1.6,0.1 Q0.4,0.2 0.2,1.4 L0,4 Q0,5.2 1.2,5.3 L2.9,5.4 L2.6,7.6 Q2.9,8.9 4,8.4 L4.9,5.3 L6,4.8Z" fill="#f3bd62"/><rect x="1.2" y="1" width="3" height="2.6" rx="1" fill="#fbe2a6"/></g>
<svg x="456" y="558.7" width="73.2" height="54.3" viewBox="0 0 73.2 54.3" overflow="hidden"><rect width="73.2" height="54.3" fill="#fff"/><rect width="73.2" height="5.7" fill="#f3efa6"/><rect y="53" width="73.2" height="1.3" fill="#f1ed9c"/><path d="M14,9.4 Q36,8.6 60,9.6 Q73,10.4 73.2,20 L73.2,36 Q73,45 60,46 Q36,47.8 14,46.4 Q0.4,45.6 0,36 L0,20 Q0.4,10 14,9.4Z" fill="#80d4fa"/><text x="2.2" y="8.8" font-size="7.4" font-weight="bold" font-style="italic" font-family="Liberation Serif, serif" fill="#181818" textLength="15.6" lengthAdjust="spacingAndGlyphs" transform="rotate(-13 2.2 8.8)">Cliché!</text><path d="M16.4,8.8 L20,7.6 L22,8 L25,6.6 L29.6,6" stroke="#666" stroke-width=".5" fill="none"/><rect x="7.9" y="20.2" width="21.6" height="6.5" rx="3.2" fill="#fbfdff"/><rect x="9.6" y="22" width="18" height="3" rx="1.5" fill="#d4ecfb"/><ellipse cx="37" cy="50.8" rx="16.4" ry="2" fill="#c6ced8"/><path d="M1.2,36 L3,31.6 L5,29.6 L7,33 L9.6,31 L12,34.6 L14.4,32.4 L16.6,36 L19.6,33 L22,34.4 L24.4,31.6 L26,30.6" stroke="#78b89c" stroke-width=".6" fill="none"/><path d="M47.6,32 L50,30 L52.4,33.6 L54.6,28 L56.6,27.6 L58.6,31.6 L61,29 L63.6,33 L66,30.4 L68.4,33.6 L70.6,31.6" stroke="#78b89c" stroke-width=".6" fill="none"/><path d="M50,33 L53,37 L57,38.6 L60.4,36 M63,34 L66.6,37" stroke="#78b89c" stroke-width=".5" fill="none"/><path d="M16,38.4 L18.4,38.6 L17.6,42.6Z" fill="#a040c0"/><path d="M52.6,33 L55.6,33.6 L54.2,38Z" fill="#a040c0"/><path d="M65,35 L67.6,35.4 L66.6,39.4Z" fill="#a040c0"/><rect x="37.2" y="41" width="2.8" height="9" fill="#141414"/><path d="M36,49.6 h4.4 v1 h-4.8z" fill="#141414"/><rect x="36.2" y="36.4" width="5.4" height="5" fill="#dfe5f6"/><rect x="36.2" y="36.98" width="5.4" height="0.67" fill="#8a9ce0"/><rect x="36.2" y="38.65" width="5.4" height="0.67" fill="#8a9ce0"/><rect x="36.2" y="40.32" width="5.4" height="0.67" fill="#8a9ce0"/><path d="M36.4,37.4 L32.4,35.4 L32.8,34.4 L37,36Z" fill="#dfe5f6"/><path d="M31,32 h2.2 l-.4,2 h-1.4z" fill="#c82848"/><ellipse cx="37.6" cy="29.4" rx="2.6" ry="3.7" fill="#f6d6a0"/><path d="M35.4,27 L33.2,27.6 L35.2,28.6Z" fill="#f4a890"/><path d="M35.4,29.6 h2 v.9 h-2z" fill="#1a1a1a"/><path d="M36.4,33.8 L41.2,33.2 L42.6,35.4 L38,37Z" fill="#e03030"/><ellipse cx="40.4" cy="25.8" rx="3.4" ry="2.3" transform="rotate(12 40.4 25.8)" fill="#141414"/></svg>
<text class="t" x="368.00" y="576.00" textLength="80.75" lengthAdjust="spacingAndGlyphs">6) La France</text>
<text class="t" x="377.50" y="589.75" textLength="61.25" lengthAdjust="spacingAndGlyphs">en grève,</text>
<text class="t" x="372.00" y="603.50" textLength="73.00" lengthAdjust="spacingAndGlyphs">paresseuse</text>
<rect x="666.75" y="88.25" width="223.25" height="57.50" rx="8" fill="#fff" stroke="#d24c4c" stroke-width="1.1"/>
<g transform="translate(680,106)"><rect x="0.2" y="3.6" width="2.3" height="4.6" fill="#3f9a2f"/><path d="M2.5,3.6 L3.6,3.2 Q4.4,1.6 5,0.2 Q6.4,-0.2 6.6,1.4 L6.2,3 L8.4,3.1 Q9.2,3.4 8.9,5 L8.3,7.6 Q7.9,8.4 6.8,8.4 L2.5,8.2Z" fill="#f3bd62"/><path d="M3.8,3.2 Q4.5,1.6 5.1,0.5 Q6.2,0.2 6.3,1.5 L6,3.1" fill="#f8d58a"/></g>
<svg x="694.1" y="93.2" width="85" height="46.9" viewBox="0 0 85 46.9" overflow="hidden"><rect width="85" height="46.9" fill="#fdf89e"/><path d="M16,3.8 L66,4 Q79.4,4.6 79.2,17 L79,26 Q78.6,38 66,38 L16,38.2 Q3,38.2 3.1,26 L3.1,16 Q3.2,4 16,3.8Z" fill="url(#tg1b)"/><ellipse cx="42.2" cy="41.3" rx="20.8" ry="1.6" fill="#9caf98"/><rect x="26.8" y="35.8" width="3.8" height="4.2" fill="#141414"/><rect x="24.9" y="39.6" width="7.9" height="1.1" rx=".5" fill="#141414"/><rect x="39" y="19.4" width="10" height="1" fill="#7ab0d8" opacity=".7"/><path d="M35.6,29 L46,31 L46,32.6 L35.6,30.2Z" fill="#e8d4a0"/><circle cx="35.6" cy="29.6" r=".9" fill="#444"/><path d="M45.2,32 L46.6,32.4 L43.4,41 L42.4,40.6Z" fill="#e8d4a0"/><path d="M45.1,27.1 Q46,23 49,22.7 Q51.6,23 52.5,25.4 L54.2,29.7 L59.1,38.5 Q57.6,41.4 55.1,41.1 L53,40 L51.4,40.6 L49.9,39.4 L48,37 L46.4,33.2Z" fill="#ee1515"/><path d="M47.6,30 L52.6,30.6 L52,34.6 L47.4,33.6Z" fill="#e8c88c"/><path d="M51,29.6 L57.4,28.6 L59,31.4 L54.4,33.6 L51.6,33Z" fill="#141414"/><path d="M57,21 L61.6,20 L63,23 L62.6,27.6 L59,28.6 L56.6,25Z" fill="#f4d47c"/><ellipse cx="59.9" cy="18.9" rx="3.1" ry="2.1" transform="rotate(-10 59.9 18.9)" fill="#141414"/><circle cx="64.2" cy="27.6" r="2.6" fill="#141414"/><circle cx="61.8" cy="26.4" r="1.5" fill="#f4d47c"/><path d="M53.4,24.6 L56.6,23.6 L57.4,26.6 L54.6,27.6Z" fill="#5a8cc8"/><path d="M59.4,30.8 L60.4,30 L67.4,37.4 L68.6,37 L68.6,38 L66.6,38.4Z" fill="#141414"/></svg>
<text class="t" x="786.25" y="114.50" textLength="86.75" lengthAdjust="spacingAndGlyphs">1) La "French</text>
<text class="t" x="795.00" y="128.00" textLength="68.75" lengthAdjust="spacingAndGlyphs">séduction"</text>
<rect x="694.5" y="201.25" width="229.75" height="58.00" rx="8" fill="#fff" stroke="#d24c4c" stroke-width="1.1"/>
<g transform="translate(708,219.25)"><rect x="6" y="0" width="2.6" height="4.6" fill="#cf4f1f"/><path d="M6,0.2 L1.6,0.1 Q0.4,0.2 0.2,1.4 L0,4 Q0,5.2 1.2,5.3 L2.9,5.4 L2.6,7.6 Q2.9,8.9 4,8.4 L4.9,5.3 L6,4.8Z" fill="#f3bd62"/><rect x="1.2" y="1" width="3" height="2.6" rx="1" fill="#fbe2a6"/></g>
<svg x="722.6" y="207" width="84.6" height="46.9" viewBox="0 0 84.6 46.9" overflow="hidden"><rect width="84.6" height="46.9" fill="#fdf89e"/><rect x="3.1" y="5" width="74.3" height="34.6" rx="14" ry="12.5" fill="url(#tg2)"/><ellipse cx="40.4" cy="42.2" rx="23" ry="1.8" fill="#8c9c8c"/><rect x="8.3" y="9.1" width="17.3" height="7" rx="3.5" fill="#e6f0b6"/><rect x="10" y="11" width="14" height="3.2" rx="1.6" fill="#d0e8b8"/><path d="M59.5,13 L72,9.6 L76.2,11.4 L76.2,17.7 L59.5,17.7Z" fill="#b4e2c8" opacity=".85"/><path d="M59.5,15 H76.2 M59.5,16.6 H76.2" stroke="#e8f4d8" stroke-width=".6"/><path d="M57.6,35.6 V29 L60,27 L62.6,29 V35.6 M57.6,35.6 H72 M67,35.6 V33 M70,30 L74,28" stroke="#a4e0d0" stroke-width=".5" fill="none"/><path d="M46.6,34 L48.6,34 L48.4,40.4 L49.4,41.2 L46,41.2Z M49.4,30 L51.2,30 L51.4,40.4 L52.4,41.2 L49.2,41.2Z" fill="#141414"/><path d="M45.6,24.8 L49.4,24.8 L49.6,34.8 L45.4,34.8Z" fill="#f6f4e8"/><path d="M45.8,19 L51,19 L51.4,30 L49.4,30 L49.4,25.2 L45.6,25.2Z" fill="#181818"/><path d="M46.4,19.2 L32.6,14 L32.8,15.4 L45.8,21Z" fill="#f4f4ea"/><rect x="38.5" y="23.3" width="7.6" height=".9" fill="#4a3a2a"/><ellipse cx="48.4" cy="14.2" rx="2.8" ry="4" fill="#f2ca7a"/><path d="M46,11.6 L44.4,11.2 L46,13Z" fill="#f4a070"/><path d="M49.6,10.2 Q52.4,10 52.4,13 L51.4,15 L50.6,12Z" fill="#141414"/><rect x="30.6" y="13.4" width="2.4" height="2.2" fill="#f0e8a0"/><path d="M30.6,12 h2.4 v1.6 h-2.4z M31.2,15.6 h1.2 l-.6,2.6z" fill="#38c040"/><path d="M19.4,28 L25.4,27.6 L26,35 L20,35.4Z" fill="#e8dc98"/><circle cx="19.6" cy="28.4" r="1.2" fill="#f2ca7a"/><path d="M27,29 Q31,27.6 34.6,30 L35,35.4 L27,35.6Z" fill="#1c1c1c"/><circle cx="30.6" cy="24.6" r="3.5" fill="#f2ce80"/><path d="M27.4,23.6 L25.6,24.6 L27.4,25.6Z" fill="#f2b078"/><path d="M27,35 L33,35 L32.6,37.6 L24,37.6 L22,40.6 L20,40.2 L21.6,36.4Z" fill="#20406a"/><path d="M19,40 L22.4,40.6 L22,41.6 L18.6,41Z" fill="#141414"/><rect x="31.1" y="31.8" width="11" height="1.5" fill="#4c443c"/><rect x="36.3" y="33.2" width=".8" height="7.6" fill="#4c443c"/><path d="M26.6,36 V41 M30,37.6 V41 M33.4,36 V41" stroke="#7a7868" stroke-width=".6"/><rect x="37.8" y="29.8" width="2.8" height="2" rx=".6" fill="#f4f4ee"/></svg>
<text class="t" x="815.00" y="227.50" textLength="91.25" lengthAdjust="spacingAndGlyphs">2) Des râleurs</text>
<text class="t" x="813.25" y="241.25" textLength="94.25" lengthAdjust="spacingAndGlyphs">professionnels</text>
<rect x="694.5" y="304.25" width="195.00" height="68.25" rx="8" fill="#fff" stroke="#d24c4c" stroke-width="1.1"/>
<g transform="translate(708,320)"><rect x="6" y="0" width="2.6" height="4.6" fill="#cf4f1f"/><path d="M6,0.2 L1.6,0.1 Q0.4,0.2 0.2,1.4 L0,4 Q0,5.2 1.2,5.3 L2.9,5.4 L2.6,7.6 Q2.9,8.9 4,8.4 L4.9,5.3 L6,4.8Z" fill="#f3bd62"/><rect x="1.2" y="1" width="3" height="2.6" rx="1" fill="#fbe2a6"/></g>
<svg x="722.7" y="308.9" width="72.6" height="58.3" viewBox="0 0 72.6 58.3" overflow="hidden"><rect width="72.6" height="58.3" fill="#f1efb8"/><path d="M11,5.6 Q36,4.6 60,6 Q69.6,6.6 69.4,16 L69.2,40 L69.2,46 L2.6,46 L2.4,16 Q2.6,6 11,5.6Z" fill="url(#tg3)"/><path d="M2.4,46.4 L2.4,43.6 L5.6,43.6 L5.6,42.4 L7.4,42.4 L7.4,44 L11.6,44 L13.6,43 L17,43.6 L20,42.6 L22.6,43.8 L26.4,43 L29.6,44 L33,43.8 L44,44 L47,43 L50.4,43.8 L54,43 L57,43.8 L61,43 L64,43.6 L66.6,42.6 L69.4,43.6 L69.4,46.4Z" fill="#f3f1c4"/><rect x="2.6" y="48.2" width="67.8" height="3.6" fill="#b2b6a2"/><rect x="2.4" y="45.8" width="67" height="2.6" fill="#e9e7b6"/><path d="M7.7,52 Q8,47.4 12,48 Q13,46 16,46.8 Q18,45.6 20,47 Q23.6,47 24.1,50 L24,52Z" fill="#44c444"/><path d="M49.3,51.5 Q50,48 54,48.4 Q56,46.4 59,47.6 Q62,46.4 64,48 Q69,48 69.8,51.5Z" fill="#44c444"/><rect x="50.8" y="23.3" width="19.5" height="4.6" rx="2.3" fill="#e6efd2"/><rect x="44.6" y="26.9" width="20.6" height="4.1" rx="2" fill="#eef3d8"/><text x="5.8" y="19.6" font-size="8.4" font-style="italic" font-family="Liberation Serif, serif" fill="#f4f6ec" textLength="17.6" lengthAdjust="spacingAndGlyphs" transform="rotate(-11 5.8 19.6)">Cliché!</text><path d="M10.6,21.6 L24,19.2 M11.6,23.6 L19,22.4" stroke="#cfe8ec" stroke-width=".4"/><path d="M36,9.4 L36.6,9.4 L37.4,25.6 L38.8,34 L39.8,35.4 L39.6,36.4 L41.4,43 L44.6,50.5 L40.6,50.5 Q39.6,44.4 36.3,44.2 Q33,44.4 32,50.5 L28,50.5 L31.2,43 L33,36.4 L32.8,35.4 L33.8,34 L35.2,25.6Z" fill="#6a8a92" opacity=".9"/><rect x="31" y="42.6" width="10.6" height="1" fill="#4a6870"/><rect x="1.2" y="56.2" width="14" height=".5" fill="#b8b690"/></svg>
<text class="t" x="801.75" y="328.25" textLength="70.75" lengthAdjust="spacingAndGlyphs">3) Tous les</text>
<text class="t" x="810.00" y="342.00" textLength="53.75" lengthAdjust="spacingAndGlyphs">Français</text>
<text class="t" x="813.75" y="355.75" textLength="46.25" lengthAdjust="spacingAndGlyphs">fument</text>
<rect x="694.5" y="400" width="233.75" height="65.00" rx="8" fill="#fff" stroke="#d24c4c" stroke-width="1.1"/>
<g transform="translate(708,407.5)"><rect x="6" y="0" width="2.6" height="4.6" fill="#cf4f1f"/><path d="M6,0.2 L1.6,0.1 Q0.4,0.2 0.2,1.4 L0,4 Q0,5.2 1.2,5.3 L2.9,5.4 L2.6,7.6 Q2.9,8.9 4,8.4 L4.9,5.3 L6,4.8Z" fill="#f3bd62"/><rect x="1.2" y="1" width="3" height="2.6" rx="1" fill="#fbe2a6"/></g>
<svg x="722.5" y="410" width="84.6" height="45" viewBox="0 0 84.6 45" overflow="hidden"><rect width="84.6" height="45" fill="#fdf8a6"/><clipPath id="c4"><path d="M20,1.5 L68,1.7 Q80.8,2 80.8,14 L80.6,30 Q80,42.2 66,42.2 L21,42.3 Q7,42.3 7,30 L7,14 Q7,1.6 20,1.5Z"/></clipPath><g clip-path="url(#c4)"><rect width="84.6" height="45" fill="#82dcd0"/><rect y="30" width="84.6" height="6.6" fill="#60c8c8"/><g fill="#82dcd0"><circle cx="8.0" cy="30" r="1.75"/><circle cx="11.3" cy="30" r="1.75"/><circle cx="14.6" cy="30" r="1.75"/><circle cx="17.9" cy="30" r="1.75"/><circle cx="21.2" cy="30" r="1.75"/><circle cx="24.5" cy="30" r="1.75"/><circle cx="27.8" cy="30" r="1.75"/><circle cx="31.1" cy="30" r="1.75"/><circle cx="34.4" cy="30" r="1.75"/><circle cx="37.7" cy="30" r="1.75"/><circle cx="41.0" cy="30" r="1.75"/><circle cx="44.3" cy="30" r="1.75"/><circle cx="47.6" cy="30" r="1.75"/><circle cx="50.9" cy="30" r="1.75"/><circle cx="54.2" cy="30" r="1.75"/><circle cx="57.5" cy="30" r="1.75"/><circle cx="60.8" cy="30" r="1.75"/><circle cx="64.1" cy="30" r="1.75"/><circle cx="67.4" cy="30" r="1.75"/><circle cx="70.7" cy="30" r="1.75"/><circle cx="74.0" cy="30" r="1.75"/><circle cx="77.3" cy="30" r="1.75"/><circle cx="80.6" cy="30" r="1.75"/><circle cx="83.9" cy="30" r="1.75"/></g><g fill="#9ce2d6"><circle cx="8.0" cy="37.2" r="1.75"/><circle cx="11.3" cy="37.2" r="1.75"/><circle cx="14.6" cy="37.2" r="1.75"/><circle cx="17.9" cy="37.2" r="1.75"/><circle cx="21.2" cy="37.2" r="1.75"/><circle cx="24.5" cy="37.2" r="1.75"/><circle cx="27.8" cy="37.2" r="1.75"/><circle cx="31.1" cy="37.2" r="1.75"/><circle cx="34.4" cy="37.2" r="1.75"/><circle cx="37.7" cy="37.2" r="1.75"/><circle cx="41.0" cy="37.2" r="1.75"/><circle cx="44.3" cy="37.2" r="1.75"/><circle cx="47.6" cy="37.2" r="1.75"/><circle cx="50.9" cy="37.2" r="1.75"/><circle cx="54.2" cy="37.2" r="1.75"/><circle cx="57.5" cy="37.2" r="1.75"/><circle cx="60.8" cy="37.2" r="1.75"/><circle cx="64.1" cy="37.2" r="1.75"/><circle cx="67.4" cy="37.2" r="1.75"/><circle cx="70.7" cy="37.2" r="1.75"/><circle cx="74.0" cy="37.2" r="1.75"/><circle cx="77.3" cy="37.2" r="1.75"/><circle cx="80.6" cy="37.2" r="1.75"/><circle cx="83.9" cy="37.2" r="1.75"/></g><rect y="37" width="84.6" height="8" fill="#9ce2d6"/></g><path d="M64.1,3.8 L63.4,18 L60.4,28.2 L62,28.2 Q64.4,22 66.8,28.2 L68.6,28.2 L65.2,18 L64.5,3.8Z" fill="#b4ecdc" opacity=".7"/><rect x="70.9" y="7.2" width="10.4" height="2.9" rx="1.4" fill="#eaf4c2"/><rect x="66.3" y="11.2" width="10" height="3.3" rx="1.6" fill="#eaf4c2"/><rect x="14" y="15.2" width="17" height=".9" fill="#6cb4d8" opacity=".7"/><ellipse cx="35.6" cy="23.4" rx="9.8" ry="3" transform="rotate(29 35.6 23.4)" fill="#c4ecc8" opacity=".8"/><ellipse cx="40.4" cy="22.6" rx="7.4" ry="2.6" transform="rotate(42 40.4 22.6)" fill="#c4ecc8" opacity=".8"/><path d="M36,35 L33.6,41 M40,36 L38,39.6 L40.6,39 M50,36 L50.6,40.4 L52,39.6 M54,36 L55.6,40 L58,41 M57,36.4 L58.6,38.6" stroke="#2c342c" stroke-width=".6" fill="none"/><ellipse cx="45.4" cy="31.8" rx="11.8" ry="4.8" fill="#3a423a"/><path d="M34.6,32 Q38,26.6 46,27.2 L46,31Z" fill="#4c544c"/><ellipse cx="55.4" cy="31" rx="3.4" ry="3.4" fill="#d42010"/><ellipse cx="52.8" cy="30.6" rx="1.6" ry="3" fill="#b01808"/><rect x="45.9" y="21.6" width="2.4" height="6.2" fill="#2c343c"/><rect x="45.2" y="17.4" width="3.6" height="4.6" fill="#e4e6ee"/><rect x="45.2" y="17.94" width="3.6" height="0.61" fill="#34406c"/><rect x="45.2" y="19.47" width="3.6" height="0.61" fill="#34406c"/><rect x="45.2" y="21.00" width="3.6" height="0.61" fill="#34406c"/><circle cx="47.1" cy="14.9" r="2" fill="#f4d49c"/><path d="M48.8,14 L50.2,14.6 L48.8,15.4Z" fill="#f4a888"/><ellipse cx="45.9" cy="12.3" rx="2.3" ry="1.5" transform="rotate(-14 45.9 12.3)" fill="#141414"/><path d="M48.6,18.4 L51.6,17 L51.8,17.8 L48.8,19.6Z" fill="#e4e6ee"/><path d="M51.4,13.6 L52.6,27.8" stroke="#c8a050" stroke-width=".8"/></svg>
<text class="t" x="813.25" y="415.75" textLength="98.50" lengthAdjust="spacingAndGlyphs">4) Les Français</text>
<text class="t" x="821.75" y="429.50" textLength="80.75" lengthAdjust="spacingAndGlyphs">auraient des</text>
<text class="t" x="821.25" y="443.25" textLength="82.50" lengthAdjust="spacingAndGlyphs">oursins dans</text>
<text class="t" x="829.25" y="457.00" textLength="67.00" lengthAdjust="spacingAndGlyphs">les poches</text>
<rect x="666.75" y="515" width="218.75" height="52.00" rx="8" fill="#fff" stroke="#d24c4c" stroke-width="1.1"/>
<g transform="translate(680,523)"><rect x="0.2" y="3.6" width="2.3" height="4.6" fill="#3f9a2f"/><path d="M2.5,3.6 L3.6,3.2 Q4.4,1.6 5,0.2 Q6.4,-0.2 6.6,1.4 L6.2,3 L8.4,3.1 Q9.2,3.4 8.9,5 L8.3,7.6 Q7.9,8.4 6.8,8.4 L2.5,8.2Z" fill="#f3bd62"/><path d="M3.8,3.2 Q4.5,1.6 5.1,0.5 Q6.2,0.2 6.3,1.5 L6,3.1" fill="#f8d58a"/></g>
<svg x="694.4" y="522.7" width="86.7" height="37.1" viewBox="0 0 86.7 37.1" overflow="hidden"><rect width="86.7" height="37.1" fill="#f4f2ae"/><path d="M1.5,0.2 L84.2,0.2 L84.2,17 Q84,31 70,31 L1.5,31Z" fill="url(#tg5)"/><path d="M54.7,6 Q54.7,2.7 63.6,2.7 Q72.6,2.7 72.6,6 L72.6,12.6 Q72.6,15.6 63.6,15.6 Q54.7,15.6 54.7,12.6Z" fill="#f2f2c6"/><ellipse cx="63.6" cy="6" rx="8.9" ry="3.1" fill="#f8f8dc"/><path d="M59.8,11.7 L64.5,7 L69.2,11.7 L69.2,16.6 L59.8,16.6Z" fill="#f0e222"/><path d="M64.5,7 L69.2,11.7 L69.2,16.6 L64.5,16.6Z" fill="#e4d418"/><path d="M16.7,24.5 L27.8,18.1 L38,13.8 Q46.6,12 55.1,13.4 L64.5,14.7 L70.5,14.6 Q76.8,15 76.4,18.6 Q76.4,22 71,21.6 Q66,21 62,18.6 L53.4,16 Q45,15.2 36.3,16.8 L27.8,19.8 L19.2,24.5 L17.1,26.2Z" fill="#e82020"/><path d="M65.4,15 L66,20 L67,20 L67.4,15Z" fill="#f0c030"/><path d="M21.4,17.6 Q22,15 25,14.6 L31,14.2 Q32.6,15 32,16.4 L24,19.6 Q21.6,19.4 21.4,17.6Z" fill="#5c9c30"/><path d="M22,15.4 L20.6,12.6 M23,15 L22.6,12.4" stroke="#5c9c30" stroke-width=".5"/><circle cx="27.1" cy="10.9" r="3.9" fill="#9c7436"/><circle cx="27.3" cy="11" r="2" fill="#b08848"/><path d="M34.6,5.3 Q36,2.8 38,3.2 Q41,2.6 43.2,4 Q45,5 45.7,7 Q48,7.4 50,6.2 L53,3.6 Q53.6,5.6 52.6,7 L49.1,10.4 Q47,11.8 44.9,11.7 L40.2,11.3 Q37.6,10.4 36.3,8.7 Q34.6,7.2 34.6,5.3Z" fill="#6ea62e"/><path d="M40,11 L38.4,14.6 L41,13 M47,11 L49.6,13.4 L51,13" stroke="#5c9428" stroke-width="1" fill="none"/><circle cx="38.8" cy="4.6" r=".9" fill="#e8e8c0"/><circle cx="38.9" cy="4.6" r=".4" fill="#404090"/><path d="M8.1,15.6 L15.4,7.9 Q16.6,8.6 16.2,10.4 L14.5,14.7 L17.5,16.4 L15,21.5 L17.9,26.7 L15,30.9 L10.7,33.5 L8,37.1 L3.4,37.1 L6.4,30.1 L8.1,23.2Z" fill="#f8d8a2"/><path d="M15.4,7.9 Q16.6,8.6 16.2,10.4 L15.4,12.6 L13.4,10.2Z" fill="#f6b48c"/><path d="M13.4,15.4 L15,16.2 L14.2,17.6 L13,16.8Z" fill="#333"/><path d="M9.6,15 L12.6,14 L12.8,14.8 L10,16Z" fill="#222"/><path d="M1.6,16 Q3,13.6 5.4,14.6 Q6.4,13.2 8.6,15 Q9.6,18 8.4,20.6 Q10,23 8.6,24.6 Q9.6,28 7.6,28.8 Q5,30 3.6,27.6 Q1.2,26.4 1.6,23.6 Q0,20 1.6,16Z" fill="#101010"/><path d="M3.6,33.4 L10.8,32.6 L16.6,33 L14.6,37.1 L3,37.1Z" fill="#e22424"/><path d="M4.4,34.8 L14,34.4 L13.6,35.4 L4,35.8Z" fill="#f4f4f0"/><path d="M3.8,36.2 L12.6,35.9 L12.2,36.9 L3.4,37.1Z" fill="#3050a8"/><path d="M5.6,30.8 L7.4,31.6 L6.6,33.4 L5,32.6Z" fill="#e22424"/></svg>
<text class="t" x="812.00" y="530.75" textLength="32.50" lengthAdjust="spacingAndGlyphs">5) La</text>
<text class="t" x="787.50" y="544.50" textLength="81.25" lengthAdjust="spacingAndGlyphs">gastronomie</text>
<text class="t" x="798.75" y="558.25" textLength="58.75" lengthAdjust="spacingAndGlyphs">française</text>
<text class="g" x="199.50" y="35.90" textLength="78.50" lengthAdjust="spacingAndGlyphs">Pointe de la mode</text>
<text class="g" x="204.50" y="53.40" textLength="73.50" lengthAdjust="spacingAndGlyphs">Dîners mondains</text>
<text class="g" x="249.50" y="102.15" textLength="52.50" lengthAdjust="spacingAndGlyphs">Cette image</text>
<text class="g" x="249.50" y="112.40" textLength="79.25" lengthAdjust="spacingAndGlyphs">d'une France avec</text>
<text class="gi" x="190.50" y="95.40" textLength="45.00" lengthAdjust="spacingAndGlyphs">Ses peintres</text>
<text class="gi" x="188.00" y="111.90" textLength="47.50" lengthAdjust="spacingAndGlyphs">Ses écrivains</text>
<text class="gi" x="148.75" y="128.40" textLength="84.25" lengthAdjust="spacingAndGlyphs">Ses créateurs de mode</text>
<text class="g" x="241.50" y="153.40" textLength="81.50" lengthAdjust="spacingAndGlyphs">En opposition avec</text>
<text class="g" x="241.50" y="164.15" textLength="84.50" lengthAdjust="spacingAndGlyphs">l'image iconique du</text>
<text class="g" x="241.50" y="174.40" textLength="66.00" lengthAdjust="spacingAndGlyphs">mâle américain</text>
<text class="gi" x="187.50" y="165.90" textLength="37.00" lengthAdjust="spacingAndGlyphs">Superman</text>
<text class="gi" x="173.75" y="182.15" textLength="53.25" lengthAdjust="spacingAndGlyphs">Cowboys etc...</text>
<text class="g" x="142.00" y="207.90" textLength="118.75" lengthAdjust="spacingAndGlyphs">Réputation d'être parmi les</text>
<text class="g" x="142.00" y="217.90" textLength="108.50" lengthAdjust="spacingAndGlyphs">pires touristes au monde</text>
<text class="g" x="202.50" y="235.90" textLength="61.75" lengthAdjust="spacingAndGlyphs">Égocentriques</text>
<text class="g" x="214.50" y="253.15" textLength="49.75" lengthAdjust="spacingAndGlyphs">Prétentieux</text>
<text class="g" x="112.50" y="270.90" textLength="151.75" lengthAdjust="spacingAndGlyphs">Peu avenants envers les étrangers</text>
<text class="g" x="142.75" y="288.65" textLength="118.50" lengthAdjust="spacingAndGlyphs">Ne savent pas / ne veulent</text>
<text class="g" x="142.75" y="298.65" textLength="78.25" lengthAdjust="spacingAndGlyphs">pas parler Anglais</text>
<text class="r" x="19.50" y="316.65" textLength="242.25" lengthAdjust="spacingAndGlyphs">Cependant, selon une idée communément reçue, rares</text>
<text class="r" x="19.50" y="327.15" textLength="215.50" lengthAdjust="spacingAndGlyphs">sont les Espagnols qui parlent plus d'une langue,</text>
<text class="r" x="19.50" y="337.40" textLength="203.75" lengthAdjust="spacingAndGlyphs">contrairement aux citoyens des autres nations</text>
<text class="g" x="125.00" y="362.90" textLength="128.25" lengthAdjust="spacingAndGlyphs">'Vous ne vous lavez pas mais</text>
<text class="g" x="125.00" y="372.90" textLength="105.00" lengthAdjust="spacingAndGlyphs">vous mettez du parfum'</text>
<text class="g" x="115.50" y="390.90" textLength="134.50" lengthAdjust="spacingAndGlyphs">Les Françaises ne s'épilent pas</text>
<text class="g" x="218.25" y="442.90" textLength="34.25" lengthAdjust="spacingAndGlyphs">Origine:</text>
<text class="gi" x="47.00" y="407.15" textLength="154.25" lengthAdjust="spacingAndGlyphs">Sous Louis XIV, l'hygiène était déplorable.</text>
<text class="gi" x="47.00" y="416.15" textLength="139.75" lengthAdjust="spacingAndGlyphs">Les nobles abusaient de parfums pour</text>
<text class="gi" x="47.00" y="424.90" textLength="115.00" lengthAdjust="spacingAndGlyphs">masquer les mauvaises odeurs.</text>
<text class="gi" x="42.00" y="442.15" textLength="158.00" lengthAdjust="spacingAndGlyphs">Aujourd'hui: les touristes basent cette idée</text>
<text class="gi" x="42.00" y="450.90" textLength="160.00" lengthAdjust="spacingAndGlyphs">sur les toilettes de brasseries ou les métros</text>
<text class="gi" x="42.00" y="459.65" textLength="131.00" lengthAdjust="spacingAndGlyphs">parisiens qui manquent de propreté</text>
<text class="r" x="47.00" y="478.40" textLength="206.00" lengthAdjust="spacingAndGlyphs">Cependant, selon une étude réalisée par l'Ifop,</text>
<text class="r" x="47.00" y="489.15" textLength="205.00" lengthAdjust="spacingAndGlyphs">les Français sont aujourd'hui les Européens les</text>
<text class="r" x="47.00" y="499.15" textLength="151.75" lengthAdjust="spacingAndGlyphs">plus préoccupés par leur hygiène !</text>
<text class="g" x="285.50" y="526.40" textLength="40.25" lengthAdjust="spacingAndGlyphs">Vacances</text>
<text class="g" x="309.25" y="544.65" textLength="16.50" lengthAdjust="spacingAndGlyphs">RTT</text>
<text class="g" x="259.00" y="584.65" textLength="39.00" lengthAdjust="spacingAndGlyphs">Projet de</text>
<text class="g" x="259.00" y="595.15" textLength="66.75" lengthAdjust="spacingAndGlyphs">taxation à 75%</text>
<text class="gi" x="138.00" y="560.90" textLength="101.50" lengthAdjust="spacingAndGlyphs">Pour certains Américains, le</text>
<text class="gi" x="138.00" y="569.65" textLength="97.75" lengthAdjust="spacingAndGlyphs">peuple français est comme</text>
<text class="gi" x="138.00" y="578.90" textLength="103.75" lengthAdjust="spacingAndGlyphs">une nation d'assistés flirtant</text>
<text class="gi" x="138.00" y="587.65" textLength="106.50" lengthAdjust="spacingAndGlyphs">avec les idéaux communistes</text>
<text class="ri" x="149.50" y="619.65" textLength="165.50" lengthAdjust="spacingAndGlyphs">Cependant, selon l'Office national des</text>
<text class="ri" x="149.50" y="630.40" textLength="173.00" lengthAdjust="spacingAndGlyphs">statistiques, les Français sont parmi les</text>
<text class="ri" x="149.50" y="640.40" textLength="157.25" lengthAdjust="spacingAndGlyphs">salariés les plus efficaces au monde</text>
<text class="g" x="901.75" y="78.40" textLength="57.75" lengthAdjust="spacingAndGlyphs">La Galanterie</text>
<text class="g" x="901.75" y="102.65" textLength="74.50" lengthAdjust="spacingAndGlyphs">L'accent Français</text>
<text class="gi" x="996.00" y="95.40" textLength="75.75" lengthAdjust="spacingAndGlyphs">Un atout à l'étranger</text>
<text class="g" x="905.00" y="133.65" textLength="75.00" lengthAdjust="spacingAndGlyphs">Le fameux baiser</text>
<text class="g" x="901.75" y="144.15" textLength="58.25" lengthAdjust="spacingAndGlyphs">à la française</text>
<text class="gi" x="996.75" y="136.65" textLength="63.25" lengthAdjust="spacingAndGlyphs">The "French kiss"</text>
<text class="g" x="936.00" y="175.90" textLength="145.75" lengthAdjust="spacingAndGlyphs">'Les Français sont des Italiens de</text>
<text class="g" x="936.00" y="186.15" textLength="145.75" lengthAdjust="spacingAndGlyphs">mauvaise humeur' Jean  Cocteau</text>
<text class="g" x="936.00" y="203.65" textLength="136.50" lengthAdjust="spacingAndGlyphs">Globalement toujours en grêve</text>
<text class="g" x="936.00" y="221.65" textLength="167.75" lengthAdjust="spacingAndGlyphs">Selon les enquêtes du comité régional</text>
<text class="g" x="936.00" y="232.15" textLength="172.00" lengthAdjust="spacingAndGlyphs">du tourisme Paris à la 33e place sur 40</text>
<text class="g" x="936.00" y="242.40" textLength="160.75" lengthAdjust="spacingAndGlyphs">pour la convivialité de ses habitants.</text>
<text class="r" x="936.00" y="260.40" textLength="119.50" lengthAdjust="spacingAndGlyphs">Cependant, la France ne se</text>
<text class="r" x="936.00" y="270.40" textLength="102.75" lengthAdjust="spacingAndGlyphs">résume pas qu'à Paris !</text>
<text class="g" x="901.00" y="295.40" textLength="136.25" lengthAdjust="spacingAndGlyphs">30% de la population française</text>
<text class="g" x="901.00" y="305.90" textLength="89.50" lengthAdjust="spacingAndGlyphs">âgée de 15 à 85 ans</text>
<text class="g" x="901.00" y="316.65" textLength="88.25" lengthAdjust="spacingAndGlyphs">consomme du tabac</text>
<text class="ri" x="901.00" y="334.65" textLength="155.00" lengthAdjust="spacingAndGlyphs">Un chiffre (déplorable) qui n'atteint</text>
<text class="ri" x="901.00" y="344.90" textLength="157.50" lengthAdjust="spacingAndGlyphs">cependant pas le niveau de certains</text>
<text class="ri" x="901.00" y="355.40" textLength="126.25" lengthAdjust="spacingAndGlyphs">Européens comme les Grecs.</text>
<text class="g" x="940.00" y="395.40" textLength="69.25" lengthAdjust="spacingAndGlyphs">Exemple : Dons</text>
<text class="g" x="940.00" y="405.40" textLength="71.75" lengthAdjust="spacingAndGlyphs">aux associations</text>
<text class="gi" x="1028.00" y="396.65" textLength="82.50" lengthAdjust="spacingAndGlyphs">22% Français donnent</text>
<text class="gi" x="1028.00" y="413.40" textLength="95.00" lengthAdjust="spacingAndGlyphs">Contre 80% d'Américains.</text>
<text class="ri" x="940.00" y="430.90" textLength="206.75" lengthAdjust="spacingAndGlyphs">Cependant, nous ne serions pas les plus radins</text>
<text class="ri" x="940.00" y="441.65" textLength="207.50" lengthAdjust="spacingAndGlyphs">en 'tips'. Les Anglais et les Italiens laissent une</text>
<text class="ri" x="940.00" y="452.15" textLength="204.50" lengthAdjust="spacingAndGlyphs">gratification pour le service encore plus mince.</text>
<text class="g" x="897.25" y="487.40" textLength="12.75" lengthAdjust="spacingAndGlyphs">Vin</text>
<text class="g" x="897.25" y="504.90" textLength="37.75" lengthAdjust="spacingAndGlyphs">Fromage</text>
<text class="g" x="897.25" y="522.90" textLength="48.75" lengthAdjust="spacingAndGlyphs">Les "Frogs"</text>
<text class="g" x="897.25" y="540.40" textLength="115.00" lengthAdjust="spacingAndGlyphs">Se baladent toujours avec</text>
<text class="g" x="897.25" y="550.90" textLength="113.25" lengthAdjust="spacingAndGlyphs">une baguette sous le bras</text>
<text class="ri" x="897.25" y="568.40" textLength="165.00" lengthAdjust="spacingAndGlyphs">Cependant, les étrangers eux-mêmes</text>
<text class="ri" x="897.25" y="579.15" textLength="165.75" lengthAdjust="spacingAndGlyphs">reconnaissent  n'avoir jamais -ou très</text>
<text class="ri" x="897.25" y="589.90" textLength="185.00" lengthAdjust="spacingAndGlyphs">peu- croisé un Français affublé de la sorte</text>
<text class="c" x="550.00" y="308.25" textLength="108.00" lengthAdjust="spacingAndGlyphs">TOP 10: Des</text>
<text class="c" x="563.75" y="327.50" textLength="80.50" lengthAdjust="spacingAndGlyphs">plus gros</text>
<text class="c" x="540.75" y="346.75" textLength="125.50" lengthAdjust="spacingAndGlyphs">clichés sur les</text>
<text class="c" x="568.75" y="365.75" textLength="70.50" lengthAdjust="spacingAndGlyphs">français</text>
<g><circle cx="42.4" cy="501.3" r="3.05" fill="#fff" stroke="#d24848" stroke-width="1.15"/><path d="M41,501.3H43.8M42.4,499.9V502.7" stroke="#3a3a3a" stroke-width="1.1"/></g>
</svg>
</body></html>
